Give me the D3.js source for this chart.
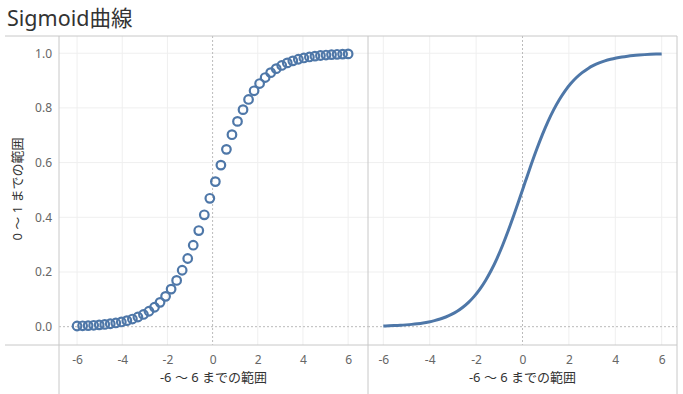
<!DOCTYPE html>
<html>
<head>
<meta charset="utf-8">
<script src="https://cdn.jsdelivr.net/npm/d3@7"></script>
<style>
  body { margin: 0; background: #fff; }
  text { font-family: "Noto Sans", "Noto Sans CJK JP", sans-serif; }
</style>
</head>
<body>
<div id="chart"></div>
<script>
// Data (50 evenly spaced points from -6 to 6)
const xValues = [-6, -5.7551, -5.5102, -5.2653, -5.0204, -4.7755, -4.5306, -4.2857,
  -4.0408, -3.7959, -3.551, -3.3061, -3.0612, -2.8163, -2.5714, -2.3265, -2.0816,
  -1.8367, -1.5918, -1.3469, -1.102, -0.8571, -0.6122, -0.3673, -0.1224,
  0.1224, 0.3673, 0.6122, 0.8571, 1.102, 1.3469, 1.5918, 1.8367, 2.0816, 2.3265,
  2.5714, 2.8163, 3.0612, 3.3061, 3.551, 3.7959, 4.0408, 4.2857, 4.5306, 4.7755,
  5.0204, 5.2653, 5.5102, 5.7551, 6];
const yValues = [0.0025, 0.0032, 0.004, 0.0051, 0.0066, 0.0084, 0.0107, 0.0136,
  0.0173, 0.022, 0.0279, 0.0354, 0.0447, 0.0564, 0.071, 0.0889, 0.1109, 0.1374,
  0.1691, 0.2063, 0.2493, 0.2979, 0.3515, 0.4091, 0.4694,
  0.5306, 0.5909, 0.6485, 0.7021, 0.7507, 0.7937, 0.8309, 0.8626, 0.8891, 0.9111,
  0.929, 0.9436, 0.9553, 0.9646, 0.9721, 0.978, 0.9827, 0.9864, 0.9893, 0.9916,
  0.9934, 0.9949, 0.996, 0.9968, 0.9975];
const xTicks = [-6, -4, -2, 0, 2, 4, 6];
const yTicks = [0, 0.2, 0.4, 0.6, 0.8, 1.0];
const title = "Sigmoid曲線",
  xTitle = "-6 ～ 6 までの範囲",
  yTitle = "0 ～ 1 までの範囲";

const width = 683, height = 394,
  plotTop = 36, plotBottom = 345,
  color = "#4e77a8",
  axisColor = "#c8c8c8";

const points = xValues.map((x, i) => ({x: x, y: yValues[i]}));

var svg = d3.select("#chart").append("svg")
  .attr("width", width)
  .attr("height", height);

var y = d3.scaleLinear().domain([-0.067, 1.063]).range([plotBottom, plotTop]);

// Two panes: circles on the left, line on the right
var panes = [
  {x0: 59, x1: 368, x: d3.scaleLinear().domain([-6.8, 6.88]).range([59, 368]), kind: "circle"},
  {x0: 368, x1: 677, x: d3.scaleLinear().domain([-6.66, 6.66]).range([368, 677]), kind: "line"}
];

panes.forEach(p => {
  var g = svg.append("g");

  // grid
  g.selectAll("line.vgrid")
    .data(xTicks.filter(d => d !== 0))
    .enter().append("line")
      .attr("x1", d => p.x(d)).attr("x2", d => p.x(d))
      .attr("y1", plotTop).attr("y2", plotBottom)
      .attr("stroke", "#efefef");
  g.selectAll("line.hgrid")
    .data(yTicks.filter(d => d !== 0))
    .enter().append("line")
      .attr("x1", p.x0).attr("x2", p.x1)
      .attr("y1", d => y(d)).attr("y2", d => y(d))
      .attr("stroke", "#efefef");

  // zero lines
  g.append("line")
    .attr("x1", p.x(0)).attr("x2", p.x(0))
    .attr("y1", plotTop).attr("y2", plotBottom)
    .attr("stroke", "#bbb").attr("stroke-dasharray", "2,2");
  g.append("line")
    .attr("x1", p.x0).attr("x2", p.x1)
    .attr("y1", y(0)).attr("y2", y(0))
    .attr("stroke", "#bbb").attr("stroke-dasharray", "2,2");

  // x axis
  var xAxis = g.append("g")
    .attr("transform", "translate(0," + plotBottom + ")")
    .call(d3.axisBottom(p.x).tickValues(xTicks).tickSize(0).tickPadding(10).tickFormat(d => String(d)));
  xAxis.select(".domain").remove();
  xAxis.selectAll("text").attr("fill", "#666").style("font-size", "12px");

  g.append("text")
    .attr("x", (p.x0 + p.x1) / 2)
    .attr("y", 382)
    .attr("text-anchor", "middle")
    .attr("fill", "#333")
    .style("font-size", "13px")
    .text(xTitle);

  if (p.kind === "circle") {
    g.selectAll("circle")
      .data(points)
      .enter().append("circle")
        .attr("cx", d => p.x(d.x))
        .attr("cy", d => y(d.y))
        .attr("r", 4.3)
        .attr("fill", "none")
        .attr("stroke", color)
        .attr("stroke-width", 2.2);
  } else {
    var line = d3.line()
      .x(d => p.x(d.x))
      .y(d => y(d.y))
      .curve(d3.curveMonotoneX);
    g.append("path")
      .datum(points)
      .attr("d", line)
      .attr("fill", "none")
      .attr("stroke", color)
      .attr("stroke-width", 3);
  }
});

// y axis
var yAxis = svg.append("g")
  .attr("transform", "translate(59,0)")
  .call(d3.axisLeft(y).tickValues(yTicks).tickSize(0).tickPadding(7).tickFormat(d3.format(".1f")));
yAxis.select(".domain").remove();
yAxis.selectAll("text").attr("fill", "#666").style("font-size", "12px");

svg.append("text")
  .attr("transform", "translate(22,189) rotate(-90)")
  .attr("text-anchor", "middle")
  .attr("fill", "#333")
  .style("font-size", "13px")
  .text(yTitle);

// frame lines
svg.append("line").attr("x1", 5).attr("x2", 677).attr("y1", plotTop).attr("y2", plotTop).attr("stroke", axisColor);
svg.append("line").attr("x1", 5).attr("x2", 677).attr("y1", plotBottom).attr("y2", plotBottom).attr("stroke", axisColor);
[59, 368, 677].forEach(x => {
  svg.append("line").attr("x1", x).attr("x2", x).attr("y1", plotTop).attr("y2", height).attr("stroke", axisColor);
});

svg.append("text")
  .attr("x", 7)
  .attr("y", 26)
  .attr("fill", "#333")
  .style("font-size", "21.5px")
  .text(title);
</script>
</body>
</html>
